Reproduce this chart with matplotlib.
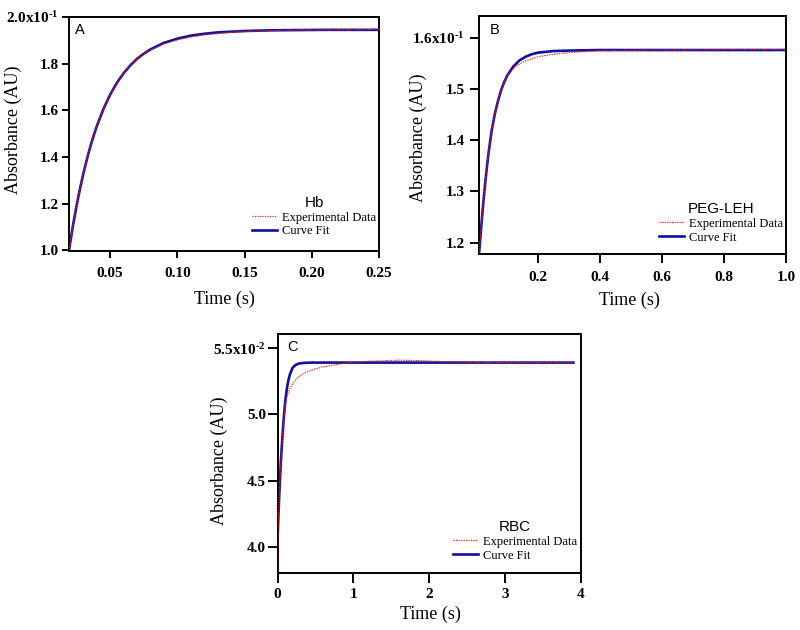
import matplotlib
matplotlib.use("Agg")
import matplotlib.pyplot as plt
from matplotlib.font_manager import FontProperties

plt.rcParams['font.family'] = ['Liberation Serif', 'DejaVu Serif']
plt.rcParams['mathtext.fontset'] = 'custom'
plt.rcParams['mathtext.rm'] = 'Liberation Serif:bold'
plt.rcParams['mathtext.default'] = 'rm'

# ---------------- data (absorbance in units of the axis multiplier) ----------------
# Panel A : Hb  (x10^-1)
tA = [0.0195, 0.0225, 0.025, 0.0275, 0.030, 0.0325, 0.035, 0.0375, 0.040, 0.045, 0.050,
      0.055, 0.060, 0.065, 0.070, 0.075, 0.080, 0.090, 0.100, 0.110, 0.120, 0.130, 0.140,
      0.150, 0.170, 0.190, 0.210, 0.230, 0.250]
fitA = [1.000, 1.107, 1.187, 1.259, 1.324, 1.383, 1.437, 1.485, 1.529, 1.604, 1.666,
        1.717, 1.758, 1.792, 1.820, 1.842, 1.861, 1.889, 1.907, 1.920, 1.928, 1.934, 1.937,
        1.940, 1.943, 1.944, 1.945, 1.945, 1.945]
expA = [1.000, 1.107, 1.187, 1.259, 1.324, 1.383, 1.437, 1.485, 1.529, 1.604, 1.666,
        1.717, 1.758, 1.792, 1.819, 1.840, 1.858, 1.885, 1.902, 1.914, 1.923, 1.929, 1.934,
        1.938, 1.942, 1.944, 1.945, 1.946, 1.947]

# Panel B : PEG-LEH  (x10^-1)
tB = [0.009, 0.012, 0.015, 0.020, 0.025, 0.030, 0.035, 0.040, 0.050, 0.060, 0.070, 0.080,
      0.090, 0.100, 0.120, 0.140, 0.160, 0.180, 0.200, 0.250, 0.300, 0.400, 0.600, 0.800, 1.000]
fitB = [1.177, 1.200, 1.222, 1.258, 1.292, 1.322, 1.350, 1.376, 1.419, 1.451, 1.476, 1.497,
        1.513, 1.526, 1.544, 1.556, 1.563, 1.568, 1.571, 1.574, 1.575, 1.576, 1.576, 1.576, 1.576]
expB = [1.177, 1.200, 1.222, 1.258, 1.292, 1.322, 1.350, 1.376, 1.419, 1.451, 1.476, 1.497,
        1.513, 1.525, 1.540, 1.549, 1.555, 1.559, 1.563, 1.568, 1.571, 1.575, 1.576, 1.577, 1.577]

# Panel C : RBC  (x10^-2)
tC_fit = [0.0, 0.01, 0.02, 0.03, 0.04, 0.05, 0.06, 0.08, 0.10, 0.12, 0.14, 0.16, 0.18, 0.20,
          0.24, 0.28, 0.35, 0.45, 0.6, 1.0, 2.0, 3.0, 3.9]
fitC = [4.088, 4.24, 4.38, 4.50, 4.62, 4.72, 4.81, 4.97, 5.10, 5.19, 5.255, 5.30, 5.33, 5.355,
        5.375, 5.385, 5.39, 5.392, 5.392, 5.392, 5.392, 5.392, 5.392]
tC_exp = [0.0, 0.002, 0.01, 0.02, 0.03, 0.04, 0.05, 0.06, 0.08, 0.10, 0.12, 0.14, 0.16, 0.20,
          0.25, 0.30, 0.40, 0.50, 0.60, 0.80, 1.0, 1.2, 1.4, 1.6, 1.8, 2.0, 2.2, 2.5, 3.0, 3.5, 3.9]
expC = [3.80, 4.10, 4.24, 4.38, 4.50, 4.62, 4.72, 4.81, 4.96, 5.07, 5.13, 5.165, 5.195, 5.235,
        5.27, 5.295, 5.325, 5.345, 5.36, 5.38, 5.395, 5.402, 5.406, 5.41, 5.408, 5.404, 5.399,
        5.394, 5.392, 5.392, 5.392]

panels = [
    dict(rect=[0.08625, 0.6016, 0.3875, 0.3714], t_exp=tA, exp=expA, t_fit=tA, fit=fitA,
         xlim=(0.0195, 0.25), ylim=(0.9965, 2.0),
         xticks=[0.05, 0.10, 0.15, 0.20, 0.25], xlabels=['0.05', '0.10', '0.15', '0.20', '0.25'],
         yticks=[1.0, 1.2, 1.4, 1.6, 1.8, 2.0],
         ylabels=['1.0', '1.2', '1.4', '1.6', '1.8', r'2.0x10$^{\text{-}1}$'],
         letter='A', letter_xy=(0.019, 0.975), name='Hb', leg=(0.990, 0.058),
         ticklen=5, xpad=6.8, ypad=2.5, ylab=(-0.181, 0.517), xlab=(0.5, -0.205)),
    dict(rect=[0.59875, 0.5968, 0.38375, 0.3778], t_exp=tB, exp=expB, t_fit=tB, fit=fitB,
         xlim=(0.009, 1.0), ylim=(1.178, 1.6424),
         xticks=[0.2, 0.4, 0.6, 0.8, 1.0], xlabels=['0.2', '0.4', '0.6', '0.8', '1.0'],
         yticks=[1.2, 1.3, 1.4, 1.5, 1.6],
         ylabels=['1.2', '1.3', '1.4', '1.5', r'1.6x10$^{\text{-}1}$'],
         letter='B', letter_xy=(0.036, 0.970), name='PEG-LEH', leg=(0.990, 0.044),
         ticklen=6.5, xpad=6.0, ypad=4.0, ylab=(-0.198, 0.49), xlab=(0.489, -0.193)),
    dict(rect=[0.3471, 0.09, 0.379, 0.3794], t_exp=tC_exp, exp=expC, t_fit=tC_fit, fit=fitC,
         xlim=(0.0, 4.0), ylim=(3.799, 5.606),
         xticks=[0, 1, 2, 3, 4], xlabels=['0', '1', '2', '3', '4'],
         yticks=[4.0, 4.5, 5.0, 5.5],
         ylabels=['4.0', '4.5', '5.0', r'5.5x10$^{\text{-}2}$'],
         letter='C', letter_xy=(0.032, 0.975), name='RBC', leg=(0.987, 0.049),
         ticklen=7, xpad=3.3, ypad=1.5, ylab=(-0.1935, 0.47), xlab=(0.504, -0.170)),
]

fig = plt.figure(figsize=(8, 6.3), dpi=100)
leg_prop = FontProperties(family='Liberation Serif', size=9)
title_prop = FontProperties(family='Liberation Sans', size=11)

for p in panels:
    ax = fig.add_axes(p['rect'])
    ax.plot(p['t_exp'], p['exp'], color='#ff1a1a', lw=0.9, ls=(0, (1, 1)),
            label='Experimental Data', zorder=3)
    ax.plot(p['t_fit'], p['fit'], color='#10109a', lw=1.9, label='Curve Fit', zorder=2)
    ax.set_xlim(*p['xlim'])
    ax.set_ylim(*p['ylim'])
    ax.set_xticks(p['xticks'])
    ax.set_xticklabels(p['xlabels'])
    ax.set_yticks(p['yticks'])
    ax.set_yticklabels(p['ylabels'])
    for s in ax.spines.values():
        s.set_linewidth(1.4)
    ax.tick_params(axis='x', direction='out', length=p['ticklen'], width=1.4, pad=p['xpad'],
                   labelsize=11)
    ax.tick_params(axis='y', direction='out', length=p['ticklen'], width=1.4, pad=p['ypad'],
                   labelsize=11)
    for lbl in ax.get_xticklabels() + ax.get_yticklabels():
        lbl.set_fontweight('bold')
    ax.set_ylabel('Absorbance (AU)', fontsize=13, va='center')
    ax.yaxis.set_label_coords(*p['ylab'])
    ax.set_xlabel('Time (s)', fontsize=13, va='center')
    ax.xaxis.set_label_coords(*p['xlab'])
    ax.text(p['letter_xy'][0], p['letter_xy'][1], p['letter'], transform=ax.transAxes,
            ha='left', va='top', fontsize=10.5, family='Liberation Sans')
    leg = ax.legend(loc='lower right', bbox_to_anchor=p['leg'], frameon=False,
                    prop=leg_prop, title=p['name'], title_fontproperties=title_prop,
                    borderpad=0, borderaxespad=0, handlelength=2.0, handletextpad=0.35,
                    labelspacing=0.15)

fig.savefig('out.png', dpi=100)
